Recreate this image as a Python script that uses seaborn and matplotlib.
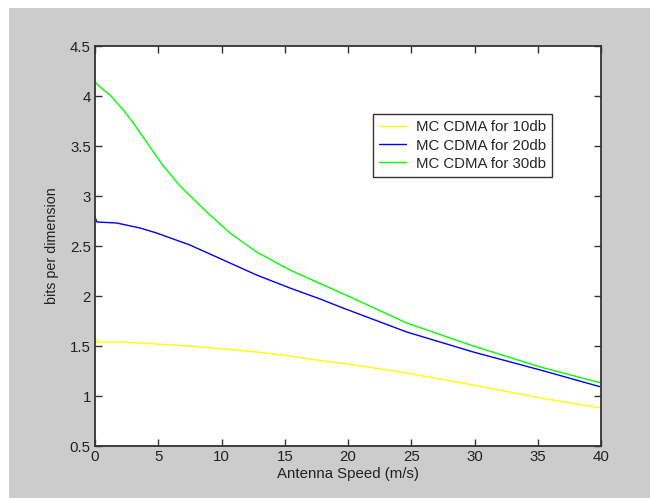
import matplotlib
matplotlib.use("Agg")
import matplotlib.pyplot as plt
import seaborn as sns
import pandas as pd
from matplotlib.patches import Rectangle
from matplotlib.lines import Line2D

# Data
x_30db = [0, 0.4, 1.19, 2.24, 3.03, 4.35, 5.4, 6.72, 8.83, 10.67, 12.77, 15.4, 18.05, 20.0, 24.64, 29.9, 35.2, 40]
y_30db = [4.14, 4.09, 4.01, 3.86, 3.73, 3.49, 3.30, 3.10, 2.84, 2.63, 2.44, 2.26, 2.11, 2.00, 1.73, 1.50, 1.29, 1.13]

x_20db = [0, 0.15, 1.71, 3.56, 4.87, 7.5, 10.14, 12.77, 15.4, 17.8, 19.6, 24.64, 29.9, 35.2, 40]
y_20db = [2.79, 2.74, 2.73, 2.68, 2.63, 2.51, 2.36, 2.21, 2.08, 1.97, 1.88, 1.64, 1.44, 1.26, 1.09]

x_10db = [0, 0.15, 2.24, 4.87, 7.5, 10.14, 12.77, 15.4, 18.05, 20.0, 24.64, 29.9, 35.2, 40]
y_10db = [1.58, 1.54, 1.54, 1.52, 1.50, 1.47, 1.44, 1.40, 1.35, 1.32, 1.23, 1.11, 0.98, 0.88]

series_labels = ["MC CDMA for 10db", "MC CDMA for 20db", "MC CDMA for 30db"]
series_colors = ["#ffff00", "#0000ff", "#00ff00"]

x_ticks = [0, 5, 10, 15, 20, 25, 30, 35, 40]
y_ticks = [0.5, 1, 1.5, 2, 2.5, 3, 3.5, 4, 4.5]
y_tick_labels = ["0.5", "1", "1.5", "2", "2.5", "3", "3.5", "4", "4.5"]

frames = []
for xs, ys, lab in [(x_10db, y_10db, series_labels[0]),
                    (x_20db, y_20db, series_labels[1]),
                    (x_30db, y_30db, series_labels[2])]:
    frames.append(pd.DataFrame({"speed": xs, "bits": ys, "series": lab}))
df = pd.concat(frames, ignore_index=True)

sns.set_theme(style="white")
plt.rcParams['font.family'] = ['Liberation Sans', 'DejaVu Sans']

fig = plt.figure(figsize=(6.5, 4.98), dpi=100, facecolor="white")
# gray panel (white strip on top and left as in reference)
fig.patches.append(Rectangle((9 / 650, 0), 1 - 9 / 650, (498 - 8) / 498,
                             transform=fig.transFigure, facecolor="#cccccc",
                             edgecolor="none", zorder=-10))

ax = fig.add_axes([95 / 650, (498 - 446) / 498, 506 / 650, 400 / 498])
ax.set_facecolor("white")

sns.lineplot(data=df, x="speed", y="bits", hue="series",
             hue_order=series_labels, palette=series_colors,
             linewidth=1.0, sort=False, estimator=None, legend=False, ax=ax)

ax.set_xlim(0, 40)
ax.set_ylim(0.5, 4.5)
ax.set_xticks(x_ticks)
ax.set_xticklabels([str(t) for t in x_ticks])
ax.set_yticks(y_ticks)
ax.set_yticklabels(y_tick_labels)

ax.tick_params(direction="in", length=5, width=1, colors="#333333",
               labelcolor="#222222", labelsize=10.8, top=True, right=True,
               bottom=True, left=True, pad=3)
for s in ax.spines.values():
    s.set_visible(True)
    s.set_color("#333333")
    s.set_linewidth(1.3)

ax.set_xlabel("Antenna Speed (m/s)", fontsize=10.8, color="#222222", labelpad=2)
ax.set_ylabel("bits per dimension", fontsize=10.3, color="#222222", labelpad=8)

handles = [Line2D([0], [0], color=c, lw=1.0) for c in series_colors]
leg = ax.legend(handles, series_labels, loc="upper left",
                bbox_to_anchor=((372.7 - 95) / 506, (446 - 114) / 400),
                borderaxespad=0, frameon=True, fancybox=False, shadow=False,
                fontsize=10.8, handlelength=1.8, handletextpad=0.65,
                labelspacing=0.28, borderpad=0.42)
leg.get_frame().set_edgecolor("#333333")
leg.get_frame().set_linewidth(1.0)
leg.get_frame().set_facecolor("white")
leg.get_frame().set_alpha(1.0)

fig.savefig("out.png", dpi=100, facecolor=fig.get_facecolor())
